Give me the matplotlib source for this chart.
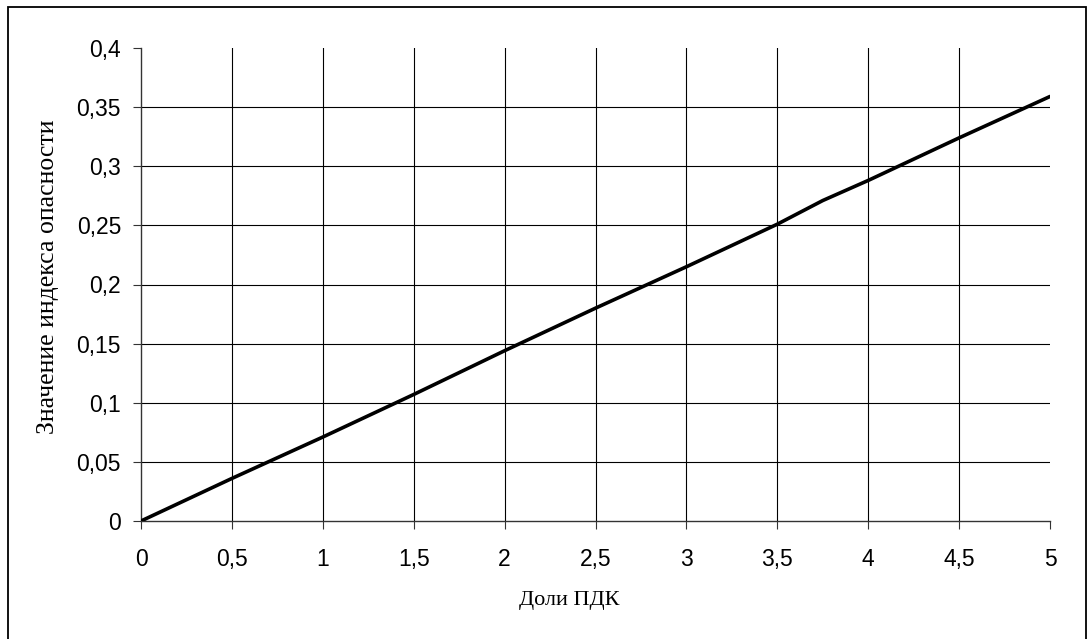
import numpy as np
import matplotlib
matplotlib.use('Agg')
import matplotlib.pyplot as plt
from matplotlib.patches import Rectangle
from matplotlib.ticker import FuncFormatter

# Data
pdk_share = [0, 0.5, 1, 1.5, 2, 2.5, 3, 3.5, 3.75, 4, 4.5, 5]
hazard_index = [0, 0.036, 0.071, 0.107, 0.144, 0.180, 0.215, 0.251, 0.271, 0.288, 0.324, 0.359]

x_ticks = [0, 0.5, 1, 1.5, 2, 2.5, 3, 3.5, 4, 4.5, 5]
y_ticks = [0, 0.05, 0.1, 0.15, 0.2, 0.25, 0.3, 0.35, 0.4]

x_label = 'Доли ПДК'
y_label = 'Значение индекса опасности'


def comma_fmt(v, pos):
    # Excel-style decimal comma, no trailing zeros
    s = ('%.2f' % v).rstrip('0').rstrip('.')
    return s.replace('.', ',')


fig = plt.figure(figsize=(10.88, 6.39), dpi=100)
ax = fig.add_axes([141 / 1088, 1 - 521 / 639, (1050 - 141) / 1088, (521 - 48) / 639])

ax.plot(pdk_share, hazard_index, color='black', lw=2.6, solid_capstyle='round', zorder=3)

ax.set_xlim(x_ticks[0], x_ticks[-1])
ax.set_ylim(y_ticks[0], y_ticks[-1])
ax.set_xticks(x_ticks)
ax.set_yticks(y_ticks)
ax.xaxis.set_major_formatter(FuncFormatter(comma_fmt))
ax.yaxis.set_major_formatter(FuncFormatter(comma_fmt))

ax.grid(True, color='black', lw=0.8)
# no gridline on the axes themselves or the outer edges
ax.xaxis.get_gridlines()[0].set_visible(False)
ax.xaxis.get_gridlines()[-1].set_visible(False)
ax.yaxis.get_gridlines()[0].set_visible(False)
ax.yaxis.get_gridlines()[-1].set_visible(False)
ax.set_axisbelow(True)

for side in ['top', 'right']:
    ax.spines[side].set_visible(False)
for side in ['left', 'bottom']:
    ax.spines[side].set_color('#333333')
    ax.spines[side].set_linewidth(1.0)

ax.tick_params(axis='both', direction='out', length=5.8, width=0.8, color='#333333',
               labelsize=16.5, labelfontfamily='Liberation Sans')
ax.tick_params(axis='y', pad=8.6)
ax.tick_params(axis='x', pad=13.5)

fig.text(569 / 1088, 1 - 600 / 639, x_label, ha='center', va='center',
         fontsize=16, family='Liberation Serif')
fig.text(48 / 1088, 1 - 277 / 639, y_label, ha='center', va='center', rotation=90,
         fontsize=18.5, family='Liberation Serif')

# outer chart border
fig.patches.append(Rectangle((8 / 1088, -0.02), (1086 - 8) / 1088, 1.02 - 7 / 639,
                             transform=fig.transFigure, fill=False, ec='black', lw=1.3))

fig.savefig('out.png', dpi=100)
